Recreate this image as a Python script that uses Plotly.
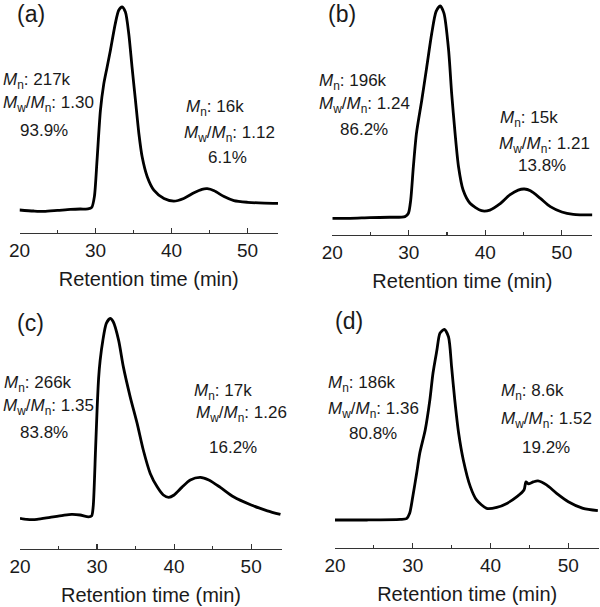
import plotly.graph_objects as go

# ---------------- data ----------------
time_a = [20.0, 21.85, 23.2, 25.0, 26.7, 28.0, 29.0, 29.5, 29.85, 30.2, 30.64, 31.08, 31.5, 31.96,
          32.6, 33.05, 33.5, 33.93, 34.37, 34.8, 35.25, 35.7, 36.13, 36.8, 37.67, 39.0, 40.3, 41.6,
          42.95, 44.0, 44.7, 45.6, 46.9, 48.2, 50.0, 52.2, 54.0]
sig_a = [0.0, -0.005, -0.007, -0.002, 0.003, 0.005, 0.005, 0.013, 0.066, 0.246, 0.49, 0.62, 0.70, 0.787,
         0.918, 0.984, 1.0, 0.975, 0.869, 0.705, 0.541, 0.377, 0.262, 0.164, 0.098, 0.057, 0.044, 0.057,
         0.085, 0.102, 0.105, 0.095, 0.066, 0.046, 0.038, 0.034, 0.033]

time_b = [20.0, 22.3, 24.9, 27.5, 29.5, 29.95, 30.25, 30.6, 31.0, 31.7, 32.35, 33.0, 33.56, 34.1,
          34.6, 35.2, 35.6, 36.05, 36.5, 37.1, 38.0, 39.5, 40.6, 41.9, 43.2, 44.3, 45.1, 45.9, 47.2,
          48.5, 50.0, 51.5, 54.0]
sig_b = [0.0, 0.0, 0.003, 0.005, 0.008, 0.024, 0.086, 0.245, 0.40, 0.557, 0.714, 0.871, 0.973, 1.0,
         0.965, 0.793, 0.589, 0.40, 0.243, 0.133, 0.071, 0.036, 0.039, 0.068, 0.11, 0.133, 0.138, 0.13,
         0.094, 0.055, 0.03, 0.019, 0.016]

time_c = [20.0, 20.9, 22.2, 23.9, 25.6, 26.7, 27.8, 28.9, 29.3, 29.5, 29.8, 30.0, 30.2, 30.4, 30.75,
          31.2, 31.7, 32.1, 32.8, 33.4, 34.3, 35.2, 36.0, 36.9, 37.8, 38.6, 39.3, 40.0, 41.0, 42.1,
          43.4, 44.5, 46.0, 47.7, 50.0, 52.1, 53.8]
sig_c = [0.0, -0.005, -0.005, 0.005, 0.015, 0.02, 0.017, 0.008, 0.013, 0.06, 0.34, 0.54, 0.70, 0.79, 0.89,
         0.975, 1.0, 0.983, 0.89, 0.76, 0.608, 0.475, 0.342, 0.225, 0.158, 0.117, 0.105, 0.117, 0.155,
         0.192, 0.205, 0.192, 0.155, 0.108, 0.067, 0.038, 0.02]

time_d = [20.0, 24.1, 28.4, 29.2, 29.6, 30.0, 30.5, 30.9, 31.6, 32.2, 32.6, 33.1, 33.5, 34.06, 34.6,
          35.0, 35.4, 35.9, 36.5, 37.4, 38.2, 39.5, 40.8, 42.1, 43.4, 44.3, 44.56, 44.86, 45.5, 46.1,
          47.2, 48.5, 50.0, 51.9, 53.8]
sig_d = [0.0, 0.0, 0.003, 0.007, 0.035, 0.122, 0.245, 0.35, 0.472, 0.63, 0.77, 0.89, 0.98, 1.0, 0.96,
         0.80, 0.63, 0.455, 0.315, 0.175, 0.105, 0.061, 0.066, 0.087, 0.122, 0.157, 0.20, 0.19, 0.20,
         0.205, 0.184, 0.14, 0.096, 0.061, 0.049]

panel_labels = ["(a)", "(b)", "(c)", "(d)"]
peak1_text = [("217k", "1.30", "93.9%"), ("196k", "1.24", "86.2%"),
              ("266k", "1.35", "83.8%"), ("186k", "1.36", "80.8%")]
peak2_text = [("16k", "1.12", "6.1%"), ("15k", "1.21", "13.8%"),
              ("17k", "1.26", "16.2%"), ("8.6k", "1.52", "19.2%")]
x_title = "Retention time (min)"
tick_vals = [20, 30, 40, 50]

# ---------------- layout geometry ----------------
W, H = 600, 607
FONT = "Liberation Sans, Arial, Helvetica, sans-serif"
TXT = "#1a1a1a"

def px(x):
    return x / W

def py(y):
    return 1 - y / H

panels = [
    dict(t=time_a, s=sig_a, xd=(19.5, 278.0), yd=(0, 233), yr=(-0.1133, 1.0345)),
    dict(t=time_b, s=sig_b, xd=(332.3, 592.4), yd=(0, 235), yr=(-0.0785, 1.028)),
    dict(t=time_c, s=sig_c, xd=(20.0, 282.0), yd=(300, 549), yr=(-0.153, 1.092)),
    dict(t=time_d, s=sig_d, xd=(335.0, 599.4), yd=(300, 548), yr=(-0.147, 1.154)),
]

fig = go.Figure()
layout = dict(
    template="none",
    width=W, height=H, margin=dict(l=0, r=0, t=0, b=0, pad=0, autoexpand=False),
    paper_bgcolor="white", plot_bgcolor="white", showlegend=False,
    font=dict(family=FONT, color=TXT),
)

for i, p in enumerate(panels):
    n = "" if i == 0 else str(i + 1)
    fig.add_trace(go.Scatter(
        x=p["t"], y=p["s"], mode="lines",
        line=dict(color="black", width=2.8, shape="spline", smoothing=0.7),
        xaxis="x" + n, yaxis="y" + n, hoverinfo="skip",
    ))
    layout["xaxis" + n] = dict(
        domain=[px(p["xd"][0]), px(p["xd"][1])], range=[20, 54], anchor="y" + n,
        automargin=False,
        showline=True, linecolor="#333", linewidth=1.4, showgrid=False, zeroline=False,
        ticks="inside", ticklen=5, tickwidth=1.2, tickcolor="#333",
        tickvals=tick_vals, tickfont=dict(size=19, family=FONT, color=TXT),
        minor=dict(tickvals=[25, 35, 45], ticks="inside", ticklen=3, tickwidth=1.2, tickcolor="#333"),
        title=dict(text=x_title, font=dict(size=20, family=FONT, color=TXT), standoff=11),
    )
    layout["yaxis" + n] = dict(
        domain=[py(p["yd"][1]), py(p["yd"][0])], range=list(p["yr"]), anchor="x" + n,
        visible=False, automargin=False,
    )

fig.update_layout(**layout)

anns = []

def ann(text, x, y, xanchor="left", size=17):
    anns.append(dict(text=text, x=px(x), y=py(y), xref="paper", yref="paper",
                     xanchor=xanchor, yanchor="middle", showarrow=False,
                     font=dict(size=size, family=FONT, color=TXT)))

label_pos = [(15, 14), (326, 14), (15, 323), (333, 321)]
for lab, (x, y) in zip(panel_labels, label_pos):
    ann(lab, x, y, size=23)

p1_pos = [(1, 1, 44, 79, 102, 130), (317, 317, 364, 80, 103, 129),
          (2, 1, 44, 382, 405, 432), (326, 326, 373, 382, 408, 433)]
p2_pos = [(184, 182, 227, 106, 132, 157), (498, 497, 542, 117, 143, 165),
          (192, 194, 233, 390, 412, 447), (499, 499, 546, 390, 418, 447)]

for texts, pos in ((peak1_text, p1_pos), (peak2_text, p2_pos)):
    for (mn, pdi, frac), (x1, x2, x3, y1, y2, y3) in zip(texts, pos):
        ann("<i>M</i><sub>n</sub>: " + mn, x1, y1 + 2)
        ann("<i>M</i><sub>w</sub>/<i>M</i><sub>n</sub>: " + pdi, x2, y2 + 2)
        ann(frac, x3, y3, xanchor="center")

fig.update_layout(annotations=anns)
fig.write_html("out.html", config={"displayModeBar": False, "staticPlot": True},
               post_script="document.body.style.margin='0';")
